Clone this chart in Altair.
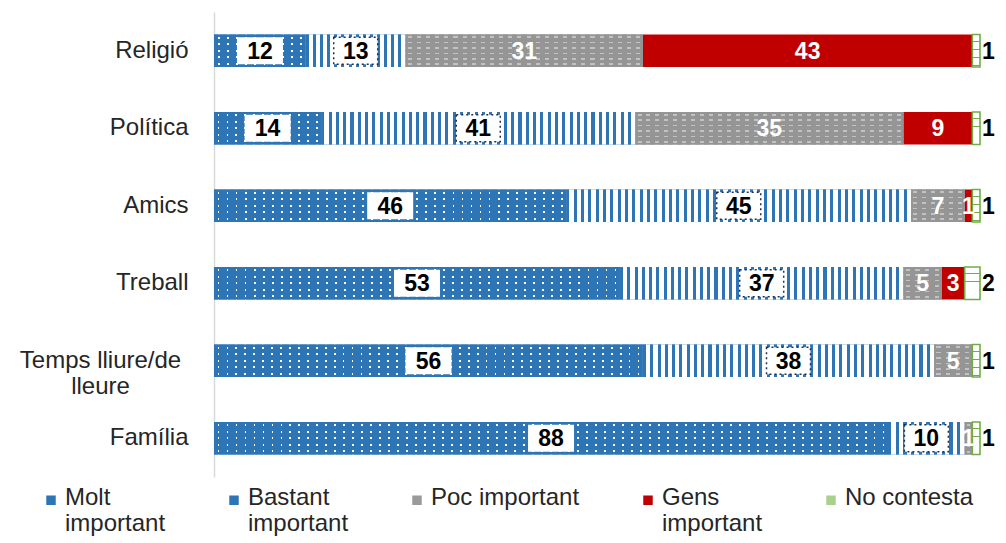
import altair as alt
import pandas as pd

categories = ["Religió", "Política", "Amics", "Treball", "Temps lliure/de lleure", "Família"]
series = ["Molt important", "Bastant important", "Poc important", "Gens important", "No contesta"]
molt = [12, 14, 46, 53, 56, 88]
bastant = [13, 41, 45, 37, 38, 10]
poc = [31, 35, 7, 5, 5, 1]
gens = [43, 9, 1, 3, 0, 0]
no_contesta = [1, 1, 1, 2, 1, 1]

values = [molt, bastant, poc, gens, no_contesta]
rows = []
for si, (s, vals) in enumerate(zip(series, values)):
    for c, v in zip(categories, vals):
        rows.append({"cat": c, "series": s, "ord": si, "value": v})
df = pd.DataFrame(rows)

BLUE = "#2E75B6"
GREY = "#959595"
GREY_LIGHT = "#C2C2C2"
RED = "#C00000"
GREEN = "#70AD47"
CLEAR = "rgba(255,255,255,0)"
W = 766
PX_PER_UNIT = W / 100
H = 465
FONT = "Liberation Sans"

base = (
    alt.Chart(df)
    .transform_filter("datum.value > 0")
    .transform_stack(stack="value", groupby=["cat"], as_=["x0", "x1"],
                     sort=[alt.SortField("ord", order="ascending")])
    .transform_calculate(mid="(datum.x0 + datum.x1) / 2")
)

TWO_LINE = "datum.value == 'Temps lliure/de lleure'"
y_enc = alt.Y(
    "cat:N", sort=categories, title=None,
    scale=alt.Scale(paddingInner=0.58, paddingOuter=0.29),
    axis=alt.Axis(
        labelFontSize=24, labelFont=FONT, labelColor="#262626",
        labelAlign={"condition": {"test": TWO_LINE, "value": "center"}, "value": "right"},
        labelPadding={"condition": {"test": TWO_LINE, "value": 114}, "value": 26},
        ticks=False, domainColor="#D9D9D9", domainWidth=1.5,
        minExtent=206, maxExtent=206, labelLimit=300,
        labelExpr="datum.label == 'Temps lliure/de lleure' ? ['Temps lliure/de', 'lleure'] : datum.label",
    ),
)
xs = alt.Scale(domain=[0, 100], nice=False)
x_enc = alt.X("x0:Q", scale=xs, axis=None)

legend_expr = (
    "indexof(['Molt important','Bastant important','Gens important'], datum.label) >= 0"
    " ? split(datum.label, ' ') : [datum.label, '']"
)

bars = base.mark_bar(strokeWidth=0).encode(
    y=y_enc,
    x=x_enc,
    x2="x1:Q",
    color=alt.Color(
        "series:N",
        scale=alt.Scale(domain=series, range=[BLUE, BLUE, "#9A9A9A", RED, "#A9D18E"]),
        legend=alt.Legend(
            title=None, orient="none", legendX=-175, legendY=462,
            direction="horizontal", columns=5, columnPadding=56,
            labelFontSize=24, labelFont=FONT, labelColor="#262626", labelLimit=300,
            symbolType="M-1,2 L1,2 L1,4 L-1,4 Z", symbolSize=90, symbolStrokeWidth=0,
            labelBaseline="top", labelOffset=2,
            labelExpr=legend_expr,
        ),
    ),
)

layers = [bars]


def stripe_stops(n, on_frac, on_color, off_color, phase=0.0):
    stops = []
    for k in range(n):
        a = k / n
        b = (k + phase) / n
        c = (k + phase + on_frac) / n
        e = (k + 1) / n
        stops += [
            alt.GradientStop(offset=a, color=off_color),
            alt.GradientStop(offset=b, color=off_color),
            alt.GradientStop(offset=b, color=on_color),
            alt.GradientStop(offset=c, color=on_color),
            alt.GradientStop(offset=c, color=off_color),
            alt.GradientStop(offset=e, color=off_color),
        ]
    return stops


def seg_layer(series_name, cat, grad):
    return base.transform_filter(
        f"datum.series == '{series_name}' && datum.cat == '{cat}'"
    ).mark_bar(fill=grad, strokeWidth=0).encode(y=y_enc, x=x_enc, x2="x1:Q")


# dotted "Molt important": white vertical lines masked by blue rows
for c, v in zip(categories, molt):
    n = max(1, round(v * PX_PER_UNIT / 9))
    g = alt.LinearGradient(gradient="linear", x1=0, x2=1, y1=0, y2=0,
                           stops=stripe_stops(n, 0.2, "white", CLEAR, 0.4))
    layers.append(seg_layer("Molt important", c, g))
mask_molt = alt.LinearGradient(gradient="linear", x1=0, x2=0, y1=0, y2=1,
                               stops=stripe_stops(5, 0.25, CLEAR, BLUE, 0.375))
layers.append(
    base.transform_filter("datum.series == 'Molt important'")
    .mark_bar(fill=mask_molt, strokeWidth=0).encode(y=y_enc, x=x_enc, x2="x1:Q")
)

# vertical stripes for "Bastant important"
for c, v in zip(categories, bastant):
    n = max(1, round(v * PX_PER_UNIT / 7.3))
    g = alt.LinearGradient(gradient="linear", x1=0, x2=1, y1=0, y2=0,
                           stops=stripe_stops(n, 0.42, BLUE, "white", 0.0))
    layers.append(seg_layer("Bastant important", c, g))

# "Poc important": grey with light dashes
for c, v in zip(categories, poc):
    if v <= 0:
        continue
    n = max(1, round(v * PX_PER_UNIT / 9))
    g = alt.LinearGradient(gradient="linear", x1=0, x2=1, y1=0, y2=0,
                           stops=stripe_stops(n, 0.45, GREY_LIGHT, GREY, 0.25))
    layers.append(seg_layer("Poc important", c, g))
mask_poc = alt.LinearGradient(gradient="linear", x1=0, x2=0, y1=0, y2=1,
                              stops=stripe_stops(6, 0.3, CLEAR, GREY, 0.35))
layers.append(
    base.transform_filter("datum.series == 'Poc important'")
    .mark_bar(fill=mask_poc, strokeWidth=0).encode(y=y_enc, x=x_enc, x2="x1:Q")
)

# No contesta: green ladder
nstops = stripe_stops(4, 0.09, GREEN, "white", 0.78)
ngrad = alt.LinearGradient(gradient="linear", x1=0, x2=0, y1=0, y2=1, stops=nstops)
layers.append(
    base.transform_filter("datum.series == 'No contesta'")
    .mark_bar(fill=ngrad, stroke=GREEN, strokeWidth=1.6)
    .encode(y=y_enc, x=x_enc, x2="x1:Q")
)

# label boxes
layers.append(
    base.transform_filter("datum.series == 'Molt important'")
    .mark_bar(fill="white", size=27, xOffset=-23, x2Offset=23)
    .encode(y=y_enc, x=alt.X("mid:Q", scale=xs, axis=None), x2="mid:Q")
)
layers.append(
    base.transform_filter("datum.series == 'Bastant important'")
    .mark_bar(fill="white", size=27, xOffset=-22, x2Offset=22,
              stroke="#1F2F4F", strokeWidth=1.5, strokeDash=[2, 3])
    .encode(y=y_enc, x=alt.X("mid:Q", scale=xs, axis=None), x2="mid:Q")
)

# value labels inside
layers.append(
    base.transform_filter("datum.series != 'No contesta'")
    .mark_text(font=FONT, fontSize=23, fontWeight="bold", baseline="middle", align="center", dy=1)
    .encode(
        y=y_enc,
        x=alt.X("mid:Q", scale=xs, axis=None),
        text="value:Q",
        color=alt.condition(
            "datum.series == 'Molt important' || datum.series == 'Bastant important'",
            alt.value("black"), alt.value("white"),
        ),
    )
)
# No contesta labels outside
layers.append(
    base.transform_filter("datum.series == 'No contesta'")
    .mark_text(font=FONT, fontSize=23, fontWeight="bold", baseline="middle", align="left", dx=2, dy=1, color="black")
    .encode(y=y_enc, x=alt.X("x1:Q", scale=xs, axis=None), text="value:Q")
)

chart = (
    alt.layer(*layers)
    .properties(
        width=W, height=H,
        autosize=alt.AutoSizeParams(type="none"),
        padding={"left": 206, "top": 4, "right": 18, "bottom": 64},
    )
    .configure_view(stroke=None)
)

chart.save("out.html", embed_options={"renderer": "svg", "actions": False})
